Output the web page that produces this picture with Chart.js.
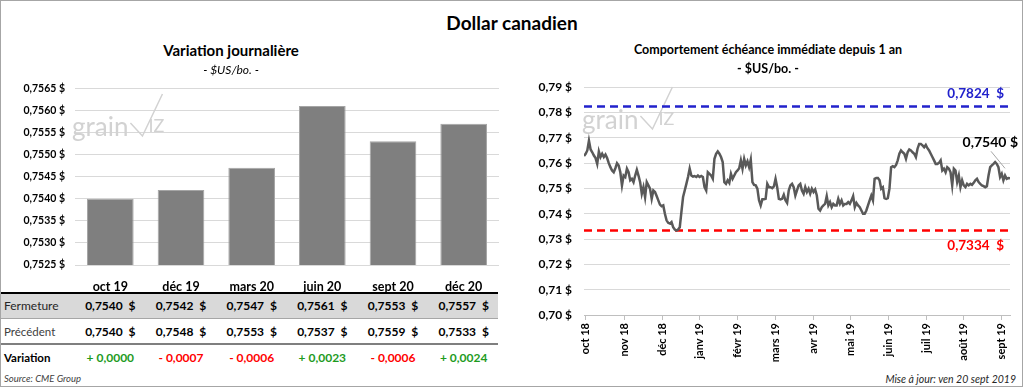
<!DOCTYPE html>
<html lang="fr">
<head>
<meta charset="UTF-8">
<title>Dollar canadien</title>
<script src="https://cdn.jsdelivr.net/npm/chart.js"></script>
<style>
  body { margin: 0; background: #fff; font-family: 'Lato', sans-serif; color: #000; }
  #frame { position: relative; width: 1024px; height: 388px; overflow: hidden; background: #fff; }
  #border { position: absolute; left: 0; top: 0; width: 1023px; height: 387px; box-sizing: border-box; border: 1px solid #a6a6a6; pointer-events: none; }
  .t { position: absolute; white-space: pre; line-height: 16px; }
  .c { text-align: center; }
  .bar { position: absolute; left: 0; width: 498px; }
  canvas { position: absolute; }
</style>
</head>
<body>
<div id="frame">
  <canvas id="leftChart" width="505" height="220" style="left:0;top:72px;"></canvas>
  <canvas id="rightChart" width="512" height="297" style="left:512px;top:68px;"></canvas>

  <div class="t c" style="left:312px;width:400px;top:13px;font-size:19px;font-weight:bold;line-height:20px;">Dollar canadien</div>

  <div class="t c" style="left:81px;width:300px;top:42px;font-size:15px;font-weight:bold;">Variation journalière</div>
  <div class="t c" style="left:131px;width:200px;top:62px;font-size:12px;font-style:italic;">- $US/bo. -</div>

  <div class="t c" style="left:568px;width:400px;top:42px;font-size:12.5px;font-weight:bold;">Comportement échéance immédiate depuis 1 an</div>
  <div class="t c" style="left:668px;width:200px;top:61px;font-size:12.5px;font-weight:bold;">- $US/bo. -</div>

  <!-- tableau sous le graphique de gauche -->
  <div class="bar" style="top:294px;height:24px;background:#d9d9d9;"></div>
  <div class="bar" style="top:292px;height:2px;background:#000;"></div>
  <div class="bar" style="top:318px;height:1px;background:#a6a6a6;"></div>
  <div class="bar" style="top:343px;height:2px;background:#7f7f7f;"></div>
  <div class="t" style="left:4px;top:298px;font-size:12px;color:#262626;">Fermeture</div>
  <div class="t" style="left:4px;top:324px;font-size:11.5px;color:#404040;">Précédent</div>
  <div class="t" style="left:4px;top:350px;font-size:11.5px;font-weight:bold;">Variation</div>
  <div id="cells"></div>

  <div class="t" style="left:4px;top:371px;font-size:9.5px;font-style:italic;color:#404040;">Source: CME Group</div>
  <div class="t" style="left:716px;width:300px;text-align:right;top:371px;font-size:10.5px;font-style:italic;color:#262626;">Mise à jour: ven 20 sept 2019</div>

  <div id="border"></div>
</div>

<script>
// contrats (graphique de gauche + tableau)
const contracts = ['oct 19', 'déc 19', 'mars 20', 'juin 20', 'sept 20', 'déc 20'];
const closes = [0.7540, 0.7542, 0.7547, 0.7561, 0.7553, 0.7557];
const previous = [0.7540, 0.7548, 0.7553, 0.7537, 0.7559, 0.7533];
const changes = [0.0000, -0.0007, -0.0006, 0.0023, -0.0006, 0.0024];

// échéance immédiate, un an de séances (graphique de droite)
const prices = [
  0.7628, 0.7637, 0.7650, 0.7689, 0.7654, 0.7643, 0.7630, 0.7620, 0.7597, 0.7646,
  0.7624, 0.7637, 0.7624, 0.7634, 0.7620, 0.7600, 0.7584, 0.7571, 0.7564, 0.7580,
  0.7600, 0.7591, 0.7564, 0.7512, 0.7551, 0.7545, 0.7578, 0.7564, 0.7532, 0.7538,
  0.7525, 0.7551, 0.7574, 0.7551, 0.7525, 0.7479, 0.7505, 0.7466, 0.7525, 0.7512,
  0.7499, 0.7459, 0.7492, 0.7486, 0.7470, 0.7453, 0.7436, 0.7430, 0.7433, 0.7400,
  0.7374, 0.7364, 0.7361, 0.7367, 0.7347, 0.7338, 0.7334, 0.7338, 0.7347, 0.7407,
  0.7466, 0.7492, 0.7518, 0.7545, 0.7578, 0.7551, 0.7547, 0.7549,
  0.7545, 0.7551, 0.7545, 0.7549, 0.7545, 0.7505, 0.7492, 0.7564, 0.7558, 0.7551,
  0.7538, 0.7617, 0.7637, 0.7646, 0.7637, 0.7624, 0.7604, 0.7525, 0.7518, 0.7532,
  0.7522, 0.7558, 0.7538, 0.7551, 0.7564, 0.7571, 0.7580, 0.7611, 0.7578, 0.7617,
  0.7591, 0.7607, 0.7584, 0.7614, 0.7525, 0.7514, 0.7512, 0.7499, 0.7453, 0.7433,
  0.7457, 0.7457, 0.7459, 0.7518, 0.7505, 0.7505, 0.7501, 0.7508, 0.7538, 0.7505,
  0.7459, 0.7457, 0.7459, 0.7475, 0.7453, 0.7443, 0.7492, 0.7512, 0.7518, 0.7505,
  0.7472, 0.7492, 0.7512, 0.7518, 0.7492, 0.7479,
  0.7505, 0.7486, 0.7499, 0.7479, 0.7499, 0.7486, 0.7496, 0.7472, 0.7420, 0.7413,
  0.7426, 0.7433, 0.7439, 0.7470, 0.7433, 0.7446, 0.7426, 0.7439, 0.7433, 0.7433,
  0.7459, 0.7439, 0.7453, 0.7433, 0.7439, 0.7439, 0.7446, 0.7439, 0.7453, 0.7470,
  0.7426, 0.7443, 0.7433, 0.7426, 0.7413, 0.7400, 0.7400, 0.7413, 0.7433, 0.7453,
  0.7472, 0.7453, 0.7538, 0.7541, 0.7541, 0.7532, 0.7499, 0.7505, 0.7462, 0.7459,
  0.7462, 0.7499, 0.7584, 0.7588, 0.7584, 0.7593, 0.7611, 0.7637, 0.7650, 0.7643,
  0.7637, 0.7617, 0.7643, 0.7654, 0.7650, 0.7643, 0.7637,
  0.7624, 0.7657, 0.7676, 0.7676, 0.7670, 0.7663, 0.7672, 0.7659, 0.7650, 0.7637,
  0.7624, 0.7611, 0.7597, 0.7597, 0.7601, 0.7611, 0.7571, 0.7578, 0.7564, 0.7584,
  0.7578, 0.7564, 0.7512, 0.7578, 0.7571, 0.7525, 0.7551, 0.7505, 0.7532, 0.7512,
  0.7505, 0.7518, 0.7512, 0.7518, 0.7514, 0.7522, 0.7532, 0.7538, 0.7525, 0.7518,
  0.7512, 0.7509, 0.7505, 0.7509, 0.7551, 0.7584, 0.7591, 0.7597, 0.7604, 0.7597,
  0.7584, 0.7545, 0.7558, 0.7532, 0.7551, 0.7538, 0.7541, 0.7540
];
const monthLabels = ['oct 18', 'nov 18', 'déc 18', 'janv 19', 'févr 19', 'mars 19',
  'avr 19', 'mai 19', 'juin 19', 'juil 19', 'août 19', 'sept 19'];
// position (en séances) du début de chaque mois
const monthPos = [1, 24.5, 47.5, 70, 93, 116, 139, 161.5, 184.5, 207.5, 230, 253];
const high52 = 0.7824;
const low52 = 0.7334;

Chart.defaults.font.family = "Lato, sans-serif";

function fmt(v, d) { return v.toFixed(d).replace('.', ','); }

// logo grainwiz en filigrane (x, y : ligne de base du mot, en px de la page)
function drawWatermark(chart, x, y) {
  const ctx = chart.ctx;
  const ox = chart.canvas.offsetLeft, oy = chart.canvas.offsetTop;
  x -= ox; y -= oy;
  ctx.save();
  ctx.fillStyle = '#d2d2d2';
  ctx.strokeStyle = '#d2d2d2';
  ctx.font = '26px Lato';
  ctx.textBaseline = 'alphabetic';
  ctx.fillText('grain', x, y);
  const vx = x + ctx.measureText('grain').width + 2;
  ctx.lineWidth = 1.5;
  ctx.beginPath();
  ctx.moveTo(vx, y - 13);
  ctx.lineTo(vx + 12, y);
  ctx.lineTo(vx + 32, y - 42);
  ctx.stroke();
  ctx.font = '18px Lato';
  ctx.fillText('IZ', vx + 18, y - 4);
  ctx.restore();
}

const leftDecor = {
  id: 'leftDecor',
  beforeDatasetsDraw(chart) { drawWatermark(chart, 72, 136); }
};

const rightDecor = {
  id: 'rightDecor',
  beforeDatasetsDraw(chart) {
    const { ctx, chartArea: a, scales: { y } } = chart;
    drawWatermark(chart, 582, 129);
    [[high52, '#2222cc'], [low52, '#ff0000']].forEach(([v, c]) => {
      const py = y.getPixelForValue(v);
      ctx.save();
      ctx.strokeStyle = c;
      ctx.lineWidth = 2.5;
      ctx.setLineDash([8, 5]);
      ctx.beginPath();
      ctx.moveTo(a.left, py);
      ctx.lineTo(a.right, py);
      ctx.stroke();
      ctx.restore();
    });
  },
  afterDatasetsDraw(chart) {
    const { ctx, chartArea: a, scales: { x, y } } = chart;
    ctx.save();
    ctx.font = 'bold 13.5px Lato';
    ctx.textAlign = 'right';
    ctx.textBaseline = 'middle';
    ctx.fillStyle = '#2222cc';
    ctx.fillText(fmt(high52, 4) + '  $', a.right - 6, y.getPixelForValue(high52) - 13);
    ctx.fillStyle = '#ff0000';
    ctx.fillText(fmt(low52, 4) + '  $', a.right - 6, y.getPixelForValue(low52) + 15);

    const last = prices[prices.length - 1];
    const lx = x.getPixelForValue(prices.length - 1);
    const ly = y.getPixelForValue(last);
    ctx.strokeStyle = '#a6a6a6';
    ctx.lineWidth = 1;
    ctx.beginPath();
    ctx.moveTo(lx - 19, ly - 27);
    ctx.lineTo(lx - 5, ly - 10);
    ctx.stroke();
    ctx.font = 'bold 14px Lato';
    ctx.fillStyle = '#000';
    ctx.fillText(fmt(last, 4) + ' $', 506, ly - 36);
    ctx.restore();
  }
};

const leftChart = new Chart(document.getElementById('leftChart'), {
  type: 'bar',
  data: {
    labels: contracts,
    datasets: [{
      data: closes,
      backgroundColor: '#7f7f7f',
      borderColor: '#a5a5a5',
      borderWidth: 1,
      categoryPercentage: 1,
      barPercentage: 0.66
    }]
  },
  options: {
    responsive: false,
    animation: false,
    layout: { padding: { top: 0, right: 6, left: 0, bottom: 0 } },
    plugins: { legend: { display: false }, tooltip: { enabled: false } },
    scales: {
      x: {
        grid: { display: false, drawTicks: false },
        border: { display: false },
        ticks: { font: { size: 12.5, weight: 'bold' }, color: '#000', padding: 14 },
        afterFit(s) { s.height = 27; }
      },
      y: {
        min: 0.7525,
        max: 0.7565,
        ticks: {
          stepSize: 0.0005,
          callback: v => fmt(v, 4) + ' $',
          font: { size: 10.5, weight: 'bold' },
          color: '#000',
          padding: 10
        },
        grid: { color: '#d9d9d9', drawTicks: false },
        border: { display: false },
        afterFit(s) { s.width = 75; }
      }
    }
  },
  plugins: [leftDecor]
});

// cellules du tableau, alignées sur les barres
const cells = document.getElementById('cells');
function cell(text, cx, top, color) {
  const d = document.createElement('div');
  d.className = 't c';
  d.style.left = (cx - 45) + 'px';
  d.style.width = '90px';
  d.style.top = top + 'px';
  d.style.fontSize = '12px';
  d.style.fontWeight = 'bold';
  d.style.color = color || '#000';
  d.textContent = text;
  cells.appendChild(d);
}
contracts.forEach((c, i) => {
  const cx = leftChart.scales.x.getPixelForValue(i);
  cell(fmt(closes[i], 4) + '  $', cx, 298);
  cell(fmt(previous[i], 4) + '  $', cx, 324);
  const ch = changes[i];
  cell((ch < 0 ? '- ' : '+ ') + fmt(Math.abs(ch), 4), cx, 350, ch < 0 ? '#ff0000' : '#1e9b1e');
});

new Chart(document.getElementById('rightChart'), {
  type: 'line',
  data: {
    datasets: [{
      data: prices.map((p, i) => ({ x: i, y: p })),
      borderColor: '#595959',
      borderWidth: 2.5,
      pointRadius: 0,
      tension: 0,
      fill: false
    }]
  },
  options: {
    responsive: false,
    animation: false,
    layout: { padding: { top: 0, right: 14, left: 0, bottom: 0 } },
    plugins: { legend: { display: false }, tooltip: { enabled: false } },
    scales: {
      x: {
        type: 'linear',
        min: 0,
        max: prices.length - 1,
        afterBuildTicks(s) { s.ticks = monthPos.map(v => ({ value: v })); },
        ticks: {
          autoSkip: false,
          minRotation: 90,
          maxRotation: 90,
          padding: 3,
          font: { size: 11, weight: 'bold' },
          color: '#000',
          callback: (v, i) => monthLabels[i]
        },
        grid: { drawOnChartArea: false, drawTicks: true, tickLength: 5, color: '#bfbfbf' },
        border: { color: '#bfbfbf' },
        afterFit(s) { s.height = 50; }
      },
      y: {
        min: 0.70,
        max: 0.79,
        ticks: {
          stepSize: 0.01,
          callback: v => fmt(v, 2) + ' $',
          font: { size: 12, weight: 'bold' },
          color: '#000',
          padding: 12
        },
        grid: { color: '#d9d9d9', drawTicks: false },
        border: { display: false },
        afterFit(s) { s.width = 72; }
      }
    }
  },
  plugins: [rightDecor]
});
</script>
</body>
</html>
